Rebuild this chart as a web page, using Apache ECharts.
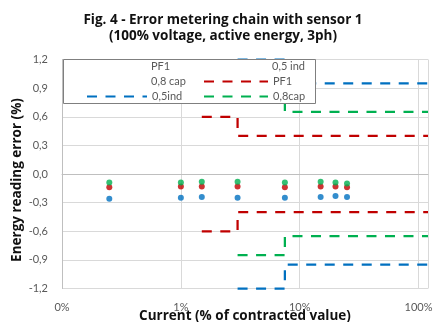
<!DOCTYPE html>
<html>
<head>
<meta charset="utf-8">
<script src="https://cdn.jsdelivr.net/npm/echarts@6/dist/echarts.min.js"></script>
<style>
html,body{margin:0;padding:0;background:#fff;}
#chart{width:435px;height:322px;}
</style>
</head>
<body>
<div id="chart"></div>
<script>
// ---- data ----
const titleLines = ['Fig. 4 - Error metering chain with sensor 1', '(100% voltage, active energy, 3ph)'];
const yAxisTitle = 'Energy reading error (%)';
const xAxisTitle = 'Current (% of contracted value)';

// measured points (current in % of contracted value)
const xCurrent = [0.25, 1, 1.5, 3, 7.5, 15, 20, 25];
const errPF1   = [-0.14, -0.13, -0.13, -0.13, -0.14, -0.13, -0.13, -0.14];
const err05ind = [-0.26, -0.25, -0.24, -0.25, -0.25, -0.24, -0.23, -0.24];
const err08cap = [-0.09, -0.09, -0.08, -0.08, -0.09, -0.08, -0.09, -0.10];

// limit lines
const limX_PF1  = [1.5, 3, 3, 120];
const limUp_PF1 = [0.6, 0.6, 0.4, 0.4];
const limLo_PF1 = [-0.6, -0.6, -0.4, -0.4];
const limX_ind  = [3, 7.5, 7.5, 120];
const limUp_ind = [1.2, 1.2, 0.95, 0.95];
const limLo_ind = [-1.2, -1.2, -0.95, -0.95];
const limX_cap  = [3, 7.5, 7.5, 120];
const limUp_cap = [0.85, 0.85, 0.65, 0.65];
const limLo_cap = [-0.85, -0.85, -0.65, -0.65];

// legend layout: [series name, column, row, shows line icon]
const legendItems = [
  ['PF1', 0, 0, false], ['0,5 ind', 1, 0, false],
  ['0,8 cap', 0, 1, false], ['PF1 ', 1, 1, true],
  ['0,5ind', 0, 2, true], ['0,8cap', 1, 2, true]
];

// axis settings
const xMin = 0.1, xMax = 120;
const yMin = -1.2, yMax = 1.2, yStep = 0.3;

// ---- build ----
const RED = '#C00000', BLUE = '#0070C0', GREEN = '#00B050';
const FONT = 'Lato, "Open Sans", sans-serif';
const BFONT = '"Open Sans", Lato, sans-serif';
const pair = (xs, ys) => xs.map((x, i) => [x, ys[i]]);

function dots(name, ys, color) {
  return { name, type: 'scatter', data: pair(xCurrent, ys), symbol: 'circle', symbolSize: 6,
    itemStyle: { color }, z: 3 };
}
function limit(name, xs, ys, color) {
  return { name, type: 'line', data: pair(xs, ys), symbol: 'none', clip: false,
    lineStyle: { color, width: 2.25, type: [10, 8.5] }, itemStyle: { color }, z: 2 };
}

const colLeft = [86, 203], colWidth = [60, 64], rowTop = [59, 74.5, 89.5];
const legends = legendItems.map(([name, c, r, isLine]) => {
  const item = { name, itemStyle: { opacity: 0, color: 'rgba(0,0,0,0)', borderWidth: 0 } };
  if (!isLine) item.icon = 'rect';
  return {
    orient: 'horizontal', align: 'left', left: colLeft[c], top: rowTop[r], padding: 0,
    itemWidth: colWidth[c], itemHeight: 14, itemGap: 0,
    textStyle: { fontFamily: FONT, fontSize: 11, color: '#595959', lineHeight: 14, align: 'left' },
    selectedMode: false, z: 5,
    data: [item]
  };
});

const option = {
  animation: false,
  textStyle: { fontFamily: FONT },
  title: {
    text: titleLines.join('\n'),
    left: 223, top: 12, textAlign: 'center', padding: 0,
    textStyle: { fontFamily: BFONT, fontSize: 13.5, fontWeight: 'bold', color: '#111', lineHeight: 16 }
  },
  grid: { left: 62, right: 7, top: 59.5, bottom: 33.5, containLabel: false, outerBoundsMode: 'none' },
  xAxis: {
    type: 'log', logBase: 10, min: xMin, max: xMax, interval: 1,
    name: xAxisTitle, nameLocation: 'middle', nameGap: 21, nameMoveOverlap: false,
    nameTextStyle: { fontFamily: BFONT, fontSize: 13.5, fontWeight: 'bold', color: '#111' },
    axisLine: { show: true, lineStyle: { color: '#bfbfbf', width: 1 } },
    axisTick: { show: false },
    axisLabel: { color: '#595959', fontSize: 11, margin: 13, fontFamily: FONT,
      formatter: v => (v > 101 ? '' : Math.round(v) + '%') },
    splitLine: { show: true, lineStyle: { color: '#d9d9d9', width: 1 } }
  },
  yAxis: {
    type: 'value', min: yMin, max: yMax, interval: yStep,
    name: yAxisTitle, nameLocation: 'middle', nameGap: 38, nameMoveOverlap: false,
    nameTextStyle: { fontFamily: BFONT, fontSize: 13.5, fontWeight: 'bold', color: '#111',
      padding: [0, 12, 0, 0] },
    axisLine: { show: true, lineStyle: { color: '#bfbfbf', width: 1 } },
    axisTick: { show: false },
    axisLabel: { color: '#595959', fontSize: 11, margin: 14, fontFamily: FONT,
      formatter: v => v.toFixed(1).replace('.', ',').replace('-0,0', '0,0') },
    splitLine: { show: true, lineStyle: { color: '#d9d9d9', width: 1 } }
  },
  graphic: [{
    type: 'rect', left: 63, top: 59, z: 3, zlevel: 0,
    shape: { width: 252, height: 44 },
    style: { fill: '#fff', stroke: '#7f7f7f', lineWidth: 1 }
  }],
  legend: legends,
  series: [
    dots('PF1', errPF1, RED),
    dots('0,5 ind', err05ind, BLUE),
    dots('0,8 cap', err08cap, GREEN),
    limit('PF1 ', limX_PF1, limUp_PF1, RED),
    limit('PF1 ', limX_PF1, limLo_PF1, RED),
    limit('0,5ind', limX_ind, limUp_ind, BLUE),
    limit('0,5ind', limX_ind, limLo_ind, BLUE),
    limit('0,8cap', limX_cap, limUp_cap, GREEN),
    limit('0,8cap', limX_cap, limLo_cap, GREEN)
  ]
};

const chart = echarts.init(document.getElementById('chart'), null, { renderer: 'canvas' });
chart.setOption(option);
</script>
</body>
</html>
